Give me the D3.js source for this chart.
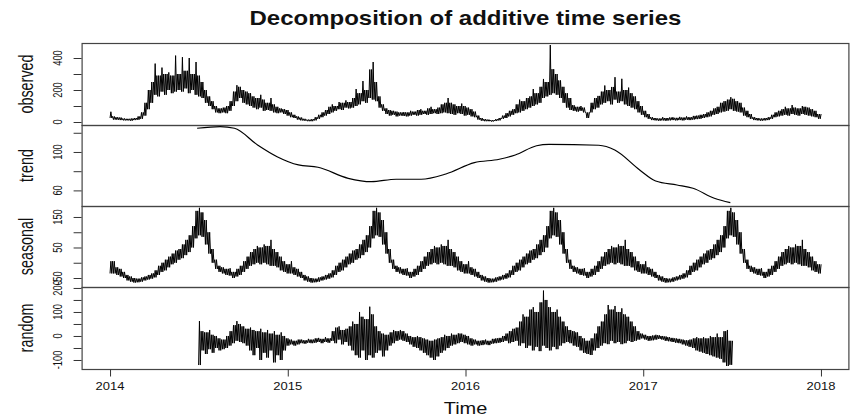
<!DOCTYPE html>
<html>
<head>
<meta charset="utf-8">
<script src="https://cdn.jsdelivr.net/npm/d3@7"></script>
<style>
  body { margin: 0; background: #fff; }
  svg { display: block; font-family: "Liberation Sans", Arial, sans-serif; }
</style>
</head>
<body>
<script>
// weekly low / high envelope of the daily series
const START = 2014;
const WEEK = 7 / 365.25;

const observedLo = [25,15,14,12,10,10,8,12,14,20,
  40,80,120,170,160,190,170,200,180,190,
  200,190,210,180,200,170,160,150,120,100,
  80,60,55,60,55,70,100,130,150,120,
  110,100,90,80,90,70,75,70,60,55,
  60,50,40,30,25,15,10,8,5,5,
  10,20,30,40,50,60,70,80,75,90,
  85,90,100,110,130,120,150,140,130,90,
  70,50,40,45,35,40,38,35,40,45,
  40,45,50,45,50,55,50,55,60,55,
  50,45,55,50,40,45,35,30,15,8,
  5,5,3,6,10,20,25,35,45,55,
  60,70,80,90,100,110,120,150,160,170,
  180,170,150,120,90,75,70,65,70,60,
  25,60,80,90,110,120,130,110,140,120,
  130,110,100,90,80,60,45,30,20,12,
  10,8,10,8,10,12,10,12,10,14,
  12,15,18,20,25,30,35,45,50,60,
  65,70,80,70,65,60,40,30,20,12,
  10,8,10,12,20,30,35,40,45,40,
  50,45,40,50,45,40,35,30,20];
const observedHi = [64,35,30,28,22,20,22,25,35,60,
  120,200,250,365,290,340,300,310,290,415,
  300,405,320,400,300,375,290,250,200,160,
  130,100,85,90,100,130,190,230,220,200,
  190,180,160,150,170,140,120,150,110,95,
  85,80,75,60,45,35,28,20,15,18,
  30,45,60,75,95,110,100,125,120,135,
  125,150,206,180,256,200,328,375,250,160,
  110,85,75,70,65,60,62,60,70,65,
  75,80,70,85,95,80,90,110,120,150,
  120,110,100,115,100,90,80,65,40,25,
  18,15,12,18,25,40,55,70,80,110,
  140,130,150,160,206,180,220,269,250,481,
  330,300,260,220,180,150,105,95,100,90,
  60,120,150,163,190,228,200,219,280,190,
  270,200,215,180,160,130,100,70,50,30,
  25,22,30,25,28,30,26,32,28,35,
  30,38,40,45,50,60,70,85,95,120,
  130,140,155,145,130,120,90,70,50,30,
  25,22,25,30,45,60,70,80,95,85,
  106,90,85,100,95,90,80,70,50];

const trendTime = [2014.49, 2014.62, 2014.70, 2014.83, 2014.94, 2015.06, 2015.17, 2015.34,
  2015.47, 2015.61, 2015.75, 2015.89, 2016.05, 2016.19, 2016.28, 2016.40, 2016.47,
  2016.75, 2016.84, 2016.98, 2017.07, 2017.19, 2017.28, 2017.40, 2017.49];
const trendValue = [124.7, 126.4, 124.7, 107.3, 95.1, 86.5, 84.1, 72.6,
  69.1, 71.6, 71.6, 77.1, 88.9, 92.4, 96.9, 106.5, 108,
  107, 102, 81.3, 69.8, 65.6, 62.2, 51.8, 47.2];

// one year of the seasonal figure (52 weeks), it repeats every year
const seasonalLo = [-35,-40,-45,-50,-58,-62,-65,-64,-62,-58,
  -55,-52,-48,-40,-30,-25,-15,-5,0,10,
  15,25,35,50,80,90,85,60,30,0,
  -20,-30,-35,-40,-42,-50,-45,-40,-30,-20,
  -10,-5,0,-5,0,-5,-10,-10,-15,-25,
  -30,-35];
const seasonalHi = [5,-15,-20,-30,-40,-45,-50,-52,-48,-45,
  -40,-35,-25,-10,0,10,20,30,40,45,
  60,75,90,120,170,180,165,140,100,45,
  10,-10,-15,-20,-18,-30,-20,-10,5,20,
  35,45,55,50,60,55,75,45,35,20,
  5,-5];

// random starts at week 26 (mid 2014)
const randomStartWeek = 26;
const randomLo = [-121,-60,-75,-55,-70,-50,-60,-55,-50,-40,
  -30,-20,-25,-30,-40,-60,-80,-50,-100,-70,
  -90,-60,-110,-80,-100,-60,-40,-35,-40,-35,
  -30,-32,-28,-30,-28,-25,-30,-25,-28,-20,
  -30,-15,-35,-25,-40,-60,-80,-90,-60,-100,
  -80,-90,-70,-60,-85,-60,-40,-30,-20,-15,
  -20,-25,-35,-45,-50,-60,-70,-80,-90,-100,
  -85,-70,-60,-50,-40,-35,-30,-25,-30,-35,
  -40,-35,-40,-38,-35,-38,-32,-30,-28,-25,
  -20,-30,-25,-20,-40,-30,-50,-40,-60,-45,
  -63,-40,-50,-60,-45,-55,-40,-30,-25,-30,
  -40,-45,-60,-70,-75,-79,-60,-50,-40,-30,
  -34,-20,-30,-25,-34,-30,-20,-25,-20,-15,
  -10,-15,-20,-18,-15,-12,-15,-20,-22,-25,
  -28,-30,-35,-40,-45,-50,-60,-65,-70,-75,
  -80,-85,-90,-95,-110,-125,-120];
const randomHi = [62,20,15,25,5,0,-10,-15,0,20,
  45,62,50,40,30,35,25,20,30,15,
  25,10,20,5,15,0,-10,-15,-20,-15,
  -15,-18,-12,-15,-10,-8,-12,-5,-10,20,
  35,40,25,30,40,60,50,100,80,70,
  122,90,40,20,10,5,15,25,20,25,
  20,10,0,-5,0,-5,-10,-15,-20,-15,
  -10,-5,5,0,10,5,11,10,5,0,
  -10,-15,-20,-18,-15,-20,-12,-10,-8,0,
  10,20,30,35,60,90,80,110,120,100,
  140,189,150,120,100,110,80,60,40,25,
  20,15,0,-10,-20,-10,10,40,60,90,
  129,110,125,100,115,90,80,60,40,20,
  10,5,0,2,5,3,0,-2,-5,-8,
  -10,-12,-15,-18,-15,-10,-5,-10,-5,-10,
  0,-5,10,-5,20,25,-20];

const yearTicks = [2014, 2015, 2016, 2017, 2018];

//-------------------------------------------------------

const w = 850;
const h = 417;

// two swings per week: to this week's high, then to the lower of this / next week's high
const zigzag = (t0, lo, hi) => {
  const pts = [];
  lo.forEach((l, i) => {
    const t = t0 + i * WEEK;
    const next = i + 1 < hi.length ? hi[i + 1] : hi[i];
    pts.push([t, l]);
    pts.push([t + WEEK / 4, hi[i]]);
    pts.push([t + WEEK / 2, l]);
    pts.push([t + (3 * WEEK) / 4, Math.min(hi[i], next)]);
  });
  return pts;
};

const seasonalPts = () => {
  const lo = [];
  const hi = [];
  observedLo.forEach((_, i) => {
    const t = START + i * WEEK;
    const k = Math.min(51, Math.floor((t - Math.floor(t)) * 52));
    lo.push(seasonalLo[k]);
    hi.push(seasonalHi[k]);
  });
  return zigzag(START, lo, hi);
};

const panels = [
  { name: 'observed', top: 43, bottom: 125, domain: [-18.75, 493.75],
    ticks: [0, 100, 200, 300, 400], labels: [0, 200, 400],
    pts: zigzag(START, observedLo, observedHi) },
  { name: 'trend', top: 125, bottom: 206, domain: [43.75, 128.1],
    ticks: [60, 80, 100, 120], labels: [60, 100],
    pts: trendTime.map((t, i) => [t, trendValue[i]]), smooth: true },
  { name: 'seasonal', top: 206, bottom: 287, domain: [-79.5, 186],
    ticks: [-50, 0, 50, 100, 150], labels: [-50, 50, 150],
    pts: seasonalPts() },
  { name: 'random', top: 287, bottom: 369, domain: [-137.5, 204],
    ticks: [-100, -50, 0, 50, 100, 150, 200], labels: [-100, 0, 100, 200],
    pts: zigzag(START + randomStartWeek * WEEK, randomLo, randomHi) },
];

const svg = d3.select('body').append('svg').attr('width', w).attr('height', h);

const x = d3.scaleLinear().domain([2013.84, 2018.16]).range([81.6, 849.4]);
const [xl, xr] = x.range();

const vtext = (g, tx, ty, str, size, squish) =>
  g.append('text')
    .attr('transform', `translate(${tx},${ty}) scale(1,${squish}) rotate(-90)`)
    .attr('text-anchor', 'middle')
    .attr('font-size', size)
    .attr('fill', '#111')
    .text(str);

svg.append('text')
  .attr('transform', `translate(${(xl + xr) / 2},25) scale(1,0.82)`)
  .attr('text-anchor', 'middle')
  .attr('font-size', 24)
  .attr('font-weight', 'bold')
  .attr('fill', '#111')
  .text('Decomposition of additive time series');

panels.forEach((p) => {
  const y = d3.scaleLinear().domain(p.domain).range([p.bottom, p.top]);
  const g = svg.append('g');

  const line = d3.line().x((d) => x(d[0])).y((d) => y(d[1]));
  if (p.smooth) line.curve(d3.curveMonotoneX);

  g.append('path')
    .datum(p.pts)
    .attr('fill', 'none')
    .attr('stroke', '#000')
    .attr('stroke-width', p.smooth ? 1.2 : 1)
    .attr('stroke-linejoin', 'round')
    .attr('d', line);

  g.append('rect')
    .attr('x', xl + 0.5)
    .attr('y', p.top + 0.5)
    .attr('width', xr - xl - 1)
    .attr('height', p.bottom - p.top)
    .attr('fill', 'none')
    .attr('stroke', '#444')
    .attr('stroke-width', 1.2);

  const axis = g.append('g')
    .attr('transform', `translate(${xl},0)`)
    .call(d3.axisLeft(y).tickValues(p.ticks).tickSize(8).tickFormat(''));
  axis.select('.domain').remove();
  axis.selectAll('line').attr('stroke', '#333');

  p.labels.forEach((v) => vtext(g, xl - 20, y(v), v, 13, 0.72));

  vtext(g, 33, (p.top + p.bottom) / 2, p.name, 20, 0.72);
});

const xAxis = svg.append('g')
  .attr('transform', `translate(0,${panels[3].bottom + 0.5})`)
  .call(d3.axisBottom(x).tickValues(yearTicks).tickSize(7).tickFormat(''));
xAxis.select('.domain').remove();
xAxis.selectAll('line').attr('stroke', '#333');

yearTicks.forEach((t) => {
  svg.append('text')
    .attr('transform', `translate(${x(t)},390) scale(1,0.82)`)
    .attr('text-anchor', 'middle')
    .attr('font-size', 13)
    .attr('fill', '#111')
    .text(t);
});

svg.append('text')
  .attr('transform', `translate(${(xl + xr) / 2},414) scale(1,0.82)`)
  .attr('text-anchor', 'middle')
  .attr('font-size', 20)
  .attr('fill', '#111')
  .text('Time');
</script>
</body>
</html>
